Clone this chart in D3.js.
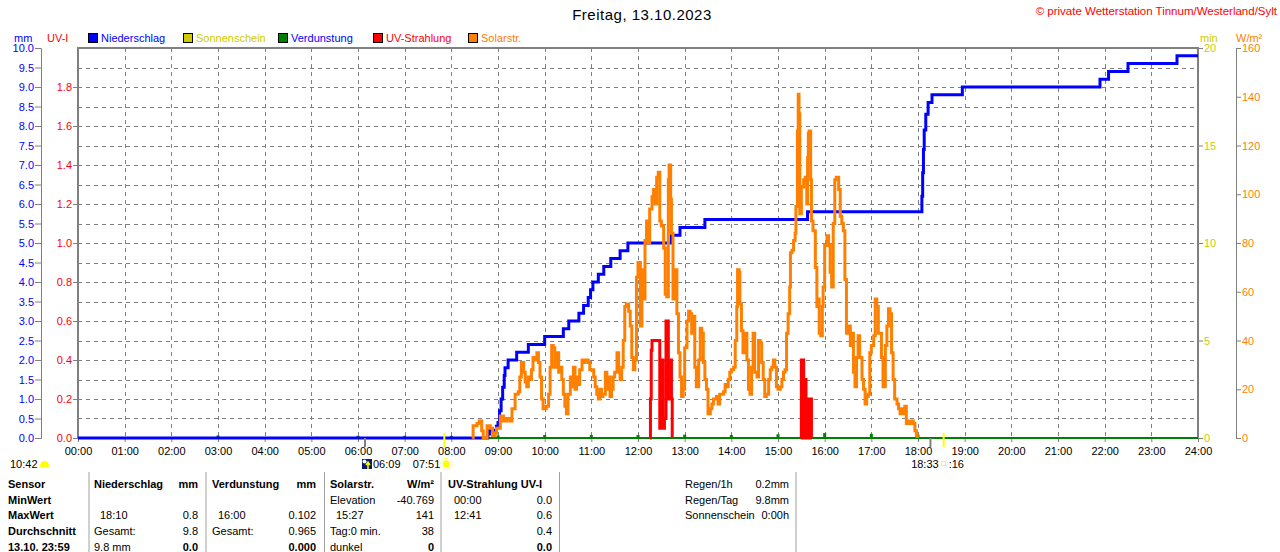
<!DOCTYPE html>
<html>
<head>
<meta charset="utf-8">
<script src="https://cdn.jsdelivr.net/npm/d3@7"></script>
<style>
    body { margin: 0; background: #fff; }
    svg { display: block; font-family: 'Liberation Sans', Arial, sans-serif; font-size: 11px; }
    .grid line { stroke: #808080; stroke-width: 1; stroke-dasharray: 4, 4; }
    .axis path, .axis line { stroke: #808080; }
    .tbl .b { font-weight: bold; }
</style>
</head>
<body>
<div class="chart"></div>
<script>
//
// GLOBALS
//
const width = 1280
const height = 552
const plot = { left: 78, right: 1198, top: 48, bottom: 438 }

//
// DATA
//
const title = 'Freitag, 13.10.2023'
const credit = '\u00a9 private Wetterstation Tinnum/Westerland/Sylt'

// axis ticks
const hourTicks = d3.range(0, 25)
const mmTicks = d3.range(0, 10.01, 0.5)
const uvTicks = d3.range(0, 1.81, 0.2)
const minTicks = [0, 5, 10, 15, 20]
const wTicks = [0, 20, 40, 60, 80, 100, 120, 140, 160]

// legend: [label, swatch colour, text colour]
const legendItems = [
    ['Niederschlag', '#0000ff', '#0000ff'],
    ['Sonnenschein', '#cccc00', '#cccc00'],
    ['Verdunstung', '#008000', '#0000ff'],
    ['UV-Strahlung', '#ff0000', '#ff0000'],
    ['Solarstr.', '#ff8000', '#ff8000']
]

// cumulative rain, mm
const rain = [
    ['00:00', 0], ['08:47', 0.1], ['08:49', 0.2], ['08:58', 0.3], ['09:00', 0.4], ['09:02', 0.7],
    ['09:04', 1.0], ['09:06', 1.3], ['09:08', 1.6], ['09:09', 1.8], ['09:13', 2.0], ['09:24', 2.2],
    ['09:39', 2.4], ['10:00', 2.6], ['10:24', 2.8], ['10:31', 3.0], ['10:44', 3.2], ['10:50', 3.4],
    ['10:56', 3.6], ['10:59', 3.8], ['11:02', 4.0], ['11:09', 4.2], ['11:16', 4.4], ['11:25', 4.6],
    ['11:37', 4.8], ['11:47', 5.0], ['12:43', 5.2], ['12:54', 5.4], ['13:26', 5.6], ['15:38', 5.8],
    ['18:05', 6.2], ['18:06', 6.8], ['18:07', 7.4], ['18:08', 7.9], ['18:10', 8.3], ['18:13', 8.6],
    ['18:18', 8.8], ['18:57', 9.0], ['21:54', 9.2], ['22:05', 9.4], ['22:30', 9.6], ['23:33', 9.8],
    ['24:00', 9.8]
]

// solar radiation, W/m2
const solar = [
    ['08:27', 0], ['08:28', 5], ['08:33', 6], ['08:36', 7], ['08:39', 3], ['08:41', 0], ['08:45', 0],
    ['08:46', 5], ['08:50', 4], ['08:53', 1], ['08:56', 2], ['08:58', 4],
    ['09:03', 9], ['09:07', 7], ['09:11', 8], ['09:15', 7], ['09:18', 12], ['09:22', 18], ['09:26', 19],
    ['09:28', 25], ['09:30', 31], ['09:33', 27], ['09:35', 23], ['09:37', 21], ['09:39', 25], ['09:41', 24],
    ['09:43', 28], ['09:45', 33], ['09:48', 32], ['09:50', 35], ['09:52', 31], ['09:54', 25], ['09:56', 16],
    ['09:58', 12],
    ['10:02', 13], ['10:05', 18], ['10:07', 29], ['10:09', 38], ['10:11', 37], ['10:13', 29], ['10:15', 35],
    ['10:18', 27], ['10:20', 29], ['10:22', 24], ['10:24', 18], ['10:26', 13], ['10:28', 10], ['10:30', 18],
    ['10:33', 25], ['10:35', 21], ['10:37', 29], ['10:39', 20], ['10:41', 25], ['10:43', 22], ['10:45', 28],
    ['10:48', 32], ['10:50', 31], ['10:52', 32], ['10:54', 32], ['10:56', 31], ['10:58', 28],
    ['11:03', 25], ['11:05', 21], ['11:07', 18], ['11:09', 16], ['11:11', 20], ['11:13', 17], ['11:15', 18],
    ['11:18', 27], ['11:20', 20], ['11:22', 25], ['11:24', 17], ['11:26', 20], ['11:28', 25], ['11:30', 27],
    ['11:33', 35], ['11:35', 27], ['11:37', 24], ['11:39', 29], ['11:41', 40], ['11:43', 54], ['11:45', 55],
    ['11:48', 52], ['11:50', 46], ['11:52', 33], ['11:54', 28], ['11:56', 32], ['11:58', 66],
    ['12:00', 72], ['12:03', 46], ['12:05', 69], ['12:07', 57], ['12:09', 81], ['12:11', 89], ['12:13', 80],
    ['12:15', 94], ['12:18', 99], ['12:20', 102], ['12:22', 96], ['12:24', 107], ['12:26', 109], ['12:28', 89],
    ['12:30', 87], ['12:33', 78], ['12:35', 59], ['12:37', 58], ['12:39', 106], ['12:40', 112], ['12:42', 98],
    ['12:43', 84], ['12:45', 57], ['12:48', 69], ['12:50', 51], ['12:52', 35], ['12:54', 25], ['12:56', 17],
    ['12:58', 20],
    ['13:00', 37], ['13:03', 48], ['13:05', 52], ['13:07', 51], ['13:09', 43], ['13:11', 50], ['13:13', 29],
    ['13:15', 21], ['13:18', 32], ['13:20', 45], ['13:22', 43], ['13:24', 31], ['13:26', 24], ['13:28', 20],
    ['13:30', 10], ['13:33', 12], ['13:35', 14], ['13:37', 16], ['13:41', 17], ['13:43', 14], ['13:45', 18],
    ['13:50', 19], ['13:52', 22], ['13:54', 21], ['13:56', 24], ['13:58', 27],
    ['14:00', 28], ['14:03', 29], ['14:05', 40], ['14:07', 54], ['14:08', 69], ['14:10', 68], ['14:11', 55],
    ['14:13', 44], ['14:15', 35], ['14:18', 43], ['14:20', 32], ['14:22', 20], ['14:24', 18], ['14:26', 29],
    ['14:28', 43], ['14:30', 27], ['14:33', 25], ['14:35', 40], ['14:37', 39], ['14:39', 31], ['14:41', 24],
    ['14:43', 17], ['14:45', 18], ['14:48', 24], ['14:50', 28], ['14:52', 29], ['14:54', 32], ['14:56', 29],
    ['14:58', 21],
    ['15:00', 20], ['15:03', 21], ['15:05', 24], ['15:07', 27], ['15:09', 28], ['15:11', 43], ['15:13', 51],
    ['15:15', 62], ['15:16', 76], ['15:18', 77], ['15:20', 81], ['15:22', 84], ['15:23', 95], ['15:25', 126],
    ['15:26', 141], ['15:27', 133], ['15:28', 92], ['15:30', 103], ['15:33', 106], ['15:35', 107], ['15:37', 96],
    ['15:38', 115], ['15:39', 125], ['15:40', 126], ['15:42', 106], ['15:43', 89], ['15:45', 85], ['15:48', 70],
    ['15:50', 54], ['15:52', 57], ['15:53', 43], ['15:55', 42], ['15:57', 54], ['15:58', 62],
    ['16:00', 79], ['16:03', 83], ['16:05', 79], ['16:07', 68], ['16:09', 62], ['16:11', 88], ['16:13', 106],
    ['16:15', 107], ['16:18', 102], ['16:20', 91], ['16:22', 88], ['16:24', 85], ['16:26', 65], ['16:28', 43],
    ['16:30', 46], ['16:33', 38], ['16:35', 43], ['16:37', 27], ['16:39', 21], ['16:41', 33], ['16:43', 42],
    ['16:45', 33], ['16:48', 24], ['16:50', 20], ['16:52', 14], ['16:54', 17], ['16:56', 18], ['16:58', 35],
    ['17:00', 38], ['17:03', 42], ['17:05', 57], ['17:07', 54], ['17:09', 43], ['17:11', 43], ['17:13', 33],
    ['17:15', 21], ['17:18', 38], ['17:20', 46], ['17:22', 53], ['17:24', 51], ['17:26', 35], ['17:28', 24],
    ['17:30', 16], ['17:33', 14], ['17:35', 12], ['17:37', 10], ['17:39', 12], ['17:41', 10], ['17:43', 13],
    ['17:45', 6], ['17:48', 7], ['17:50', 6], ['17:52', 7], ['17:54', 6], ['17:56', 3], ['17:58', 1],
    ['17:59', 0]
]

// UV index, two sunny spells
const uvNoon = [
    ['12:15', 0], ['12:16', 0.2], ['12:17', 0.45], ['12:18', 0.5], ['12:28', 0.05], ['12:30', 0.4],
    ['12:32', 0.05], ['12:34', 0.1], ['12:36', 0.6], ['12:39', 0.2], ['12:41', 0.4], ['12:43', 0.2], ['12:44', 0]
]
const uvAfternoon = [
    ['15:29', 0], ['15:30', 0.4], ['15:31', 0], ['15:32', 0.4], ['15:33', 0], ['15:33', 0.3], ['15:34', 0],
    ['15:35', 0.3], ['15:36', 0.2], ['15:37', 0], ['15:38', 0.2], ['15:39', 0], ['15:40', 0.2], ['15:41', 0],
    ['15:42', 0.2], ['15:43', 0]
]

// hourly evaporation, mm
const evapHours = [3, 6, 7, 8, 9, 10, 11, 12, 13, 14, 15, 16, 17, 18]
const evapValues = [0.04, 0.03, 0.03, 0.03, 0.04, 0.05, 0.05, 0.05, 0.06, 0.05, 0.07, 0.1, 0.08, 0.06]

// dawn / sunrise / dusk / sunset markers
const sunEvents = [['06:09', 'twilight'], ['07:51', 'sun'], ['18:16', 'twilight'], ['18:33', 'sun']]

// statistics table
const sensorCol = ['Sensor', 'MinWert', 'MaxWert', 'Durchschnitt', '13.10. 23:59']
const rainCol = [['Niederschlag', 'mm'], ['', ''], ['18:10', '0.8'], ['Gesamt:', '9.8'], ['9.8 mm', '0.0']]
const evapCol = [['Verdunstung', 'mm'], ['', ''], ['16:00', '0.102'], ['Gesamt:', '0.965'], ['', '0.000']]
const solarCol = [['Solarstr.', 'W/m\u00b2'], ['Elevation', '-40.769'], ['15:27', '141'], ['Tag:0 min.', '38'], ['dunkel', '0']]
const uvCol = [['UV-Strahlung UV-I', ''], ['00:00', '0.0'], ['12:41', '0.6'], ['', '0.4'], ['', '0.0']]
const summaryCol = [['Regen/1h', '0.2mm'], ['Regen/Tag', '9.8mm'], ['Sonnenschein', '0:00h']]

//
// HELPERS
//
const toHours = (s) => {
    const [h, m] = s.split(':').map(Number)
    return h + m / 60
}

// scales
const x = d3.scaleLinear().domain([0, 24]).range([plot.left, plot.right])
const yMm = d3.scaleLinear().domain([0, 10]).range([plot.bottom, plot.top])
const yUv = d3.scaleLinear().domain([0, 2]).range([plot.bottom, plot.top])
const yMin = d3.scaleLinear().domain([0, 20]).range([plot.bottom, plot.top])
const yW = d3.scaleLinear().domain([0, 160]).range([plot.bottom, plot.top])

const svg = d3.select('.chart').append('svg').attr('width', width).attr('height', height)

// 1) titles
svg.append('text')
    .attr('x', 642).attr('y', 20)
    .attr('text-anchor', 'middle')
    .style('font-size', '15px')
    .style('letter-spacing', '0.5px')
    .text(title)
svg.append('text')
    .attr('x', 1277).attr('y', 15)
    .attr('text-anchor', 'end')
    .attr('fill', '#ff0000')
    .style('font-size', '11.5px')
    .text(credit)

// 2) unit labels and legend
const unitLabel = (xPos, txt, col) =>
    svg.append('text').attr('x', xPos).attr('y', 42).attr('fill', col).text(txt)
unitLabel(14, 'mm', '#0000ff')
unitLabel(47, 'UV-I', '#ff0000')
unitLabel(1200, 'min', '#cccc00')
unitLabel(1236, 'W/m\u00b2', '#ff8000')

const legendX = [88, 183, 278, 373, 468]
const legend = svg.append('g').attr('class', 'legend')
legendItems.forEach(([label, col, textCol], i) => {
    legend.append('rect')
        .attr('x', legendX[i] + 0.5).attr('y', 33.5)
        .attr('width', 9).attr('height', 9)
        .attr('fill', col).attr('stroke', '#000')
    legend.append('text')
        .attr('x', legendX[i] + 13).attr('y', 42)
        .attr('fill', textCol)
        .text(label)
})

// 3) grid
const grid = svg.append('g').attr('class', 'grid')
grid.selectAll('line.h')
    .data(mmTicks.filter((d) => d > 0 && d < 10))
    .join('line')
    .attr('x1', plot.left).attr('x2', plot.right)
    .attr('y1', (d) => Math.round(yMm(d)) + 0.5).attr('y2', (d) => Math.round(yMm(d)) + 0.5)
grid.selectAll('line.v')
    .data(hourTicks.filter((d) => d > 0 && d < 24))
    .join('line')
    .attr('x1', (d) => Math.round(x(d)) + 0.5).attr('x2', (d) => Math.round(x(d)) + 0.5)
    .attr('y1', plot.top).attr('y2', plot.bottom)

// 4) axes
const styleAxis = (g, col) => {
    g.attr('class', 'axis')
    g.selectAll('text').attr('fill', col).style('font-size', '11px').style('font-family', 'Liberation Sans, Arial, sans-serif')
}
svg.append('g')
    .attr('transform', 'translate(41,0)')
    .call(d3.axisLeft(yMm).tickValues(mmTicks).tickFormat(d3.format('.1f')).tickSize(6).tickSizeOuter(6).tickPadding(1))
    .call((g) => styleAxis(g, '#0000ff'))
svg.append('g')
    .attr('transform', `translate(${plot.left},0)`)
    .call(d3.axisLeft(yUv).tickValues(uvTicks).tickFormat(d3.format('.1f')).tickSize(5).tickPadding(1))
    .call((g) => styleAxis(g, '#ff0000'))
    .call((g) => g.select('.domain').remove())
svg.append('g')
    .attr('transform', `translate(${plot.right},0)`)
    .call(d3.axisRight(yMin).tickValues(minTicks).tickSize(5).tickPadding(1))
    .call((g) => styleAxis(g, '#cccc00'))
    .call((g) => g.select('.domain').remove())
svg.append('g')
    .attr('transform', 'translate(1236,0)')
    .call(d3.axisRight(yW).tickValues(wTicks).tickSize(5).tickSizeOuter(5).tickPadding(1))
    .call((g) => styleAxis(g, '#ff8000'))
svg.append('g')
    .attr('transform', `translate(0,${plot.bottom})`)
    .call(d3.axisBottom(x).tickValues(hourTicks).tickFormat((d) => d3.format('02d')(d) + ':00').tickSize(4).tickPadding(5))
    .call((g) => styleAxis(g, '#000'))
    .call((g) => g.select('.domain').remove())

// 5) frame
svg.append('rect')
    .attr('x', plot.left).attr('y', plot.top)
    .attr('width', plot.right - plot.left).attr('height', plot.bottom - plot.top)
    .attr('fill', 'none').attr('stroke', '#808080').attr('stroke-width', 2)

// 6) series
const seriesLine = (yScale, curve) => d3.line()
    .x((d) => x(toHours(d[0])))
    .y((d) => yScale(d[1]))
    .curve(curve)

// evaporation: baseline plus hourly markers
svg.append('path')
    .attr('d', seriesLine(yMm, d3.curveLinear)([['00:00', 0], ['24:00', 0]]))
    .attr('fill', 'none').attr('stroke', '#008000').attr('stroke-width', 2)
svg.append('g').selectAll('rect')
    .data(evapHours)
    .join('rect')
    .attr('x', (d) => x(d) - 1.5)
    .attr('width', 3)
    .attr('y', (d, i) => yMm(evapValues[i]) - 1)
    .attr('height', (d, i) => yMm(0) - yMm(evapValues[i]) + 1)
    .attr('fill', '#008000')

svg.append('path')
    .attr('d', seriesLine(yMm, d3.curveStepAfter)(rain))
    .attr('fill', 'none').attr('stroke', '#0000ff').attr('stroke-width', 3)

svg.append('path')
    .attr('d', seriesLine(yW, d3.curveStepAfter)(solar))
    .attr('fill', 'none').attr('stroke', '#ff8000').attr('stroke-width', 3)

for (const spell of [uvNoon, uvAfternoon]) {
    svg.append('path')
        .attr('d', seriesLine(yUv, d3.curveStepAfter)(spell))
        .attr('fill', 'none').attr('stroke', '#ff0000').attr('stroke-width', 3)
}

// 7) sun events under the axis
const sunG = svg.append('g')
for (const [t, kind] of sunEvents) {
    const sx = x(toHours(t))
    sunG.append('line')
        .attr('x1', sx).attr('x2', sx)
        .attr('y1', kind === 'sun' ? 433 : 438).attr('y2', 447)
        .attr('stroke', kind === 'sun' ? '#ffff00' : '#808080').attr('stroke-width', 2)
}
const dawn = x(toHours(sunEvents[0][0]))
const rise = x(toHours(sunEvents[1][0]))
const set = x(toHours(sunEvents[3][0]))
// dawn icon
sunG.append('rect').attr('x', dawn - 3).attr('y', 459).attr('width', 10).attr('height', 10).attr('fill', '#0a1a6a')
sunG.append('circle').attr('cx', dawn - 0.5).attr('cy', 461.5).attr('r', 2).attr('fill', '#fff')
sunG.append('path').attr('d', `M${dawn + 3},469 V463 M${dawn + 1},465 L${dawn + 3},462 L${dawn + 5},465`)
    .attr('stroke', '#ffff00').attr('stroke-width', 1.5).attr('fill', 'none')
sunG.append('text').attr('x', dawn + 8).attr('y', 468).text(sunEvents[0][0])
// sunrise
sunG.append('text').attr('x', rise - 4).attr('y', 468).attr('text-anchor', 'end').text(sunEvents[1][0])
sunG.append('circle').attr('cx', rise + 2).attr('cy', 464).attr('r', 3.5).attr('fill', '#ffff00')
sunG.append('circle').attr('cx', rise + 2).attr('cy', 464).attr('r', 5.5)
    .attr('fill', 'none').attr('stroke', '#ffff00').attr('stroke-width', 1).attr('stroke-dasharray', '1.5,1.3')
// sunset
sunG.append('text').attr('x', set - 5).attr('y', 468).attr('text-anchor', 'end').text(sunEvents[3][0])
sunG.append('rect').attr('x', set - 2).attr('y', 461.5).attr('width', 4).attr('height', 4)
    .attr('fill', 'none').attr('stroke', '#ffff00').attr('stroke-width', 1)
sunG.append('text').attr('x', set + 5).attr('y', 468).text(':' + sunEvents[2][0].slice(3))
// day length
svg.append('text').attr('x', 10).attr('y', 468).text('10:42')
svg.append('path').attr('d', 'M40,467 Q40,461 44.5,461 Q49,461 49,467 Z').attr('fill', '#ffff00')

// 8) statistics table
const tbl = svg.append('g').attr('class', 'tbl')
const rowY = (i) => 488 + i * 15.7
const sepX = [89, 206, 324.5, 441, 559.5, 796]
tbl.selectAll('line')
    .data(sepX)
    .join('line')
    .attr('x1', (d) => d).attr('x2', (d) => d)
    .attr('y1', 472).attr('y2', height)
    .attr('stroke', '#a0a0a0')

sensorCol.forEach((txt, i) => {
    tbl.append('text').attr('class', 'b').attr('x', 8).attr('y', rowY(i)).text(txt)
})
const isTime = (s) => /^\d\d:\d\d$/.test(s)
const plotColumn = (col, left, right, withHeader) => {
    col.forEach(([label, value], i) => {
        const bold = withHeader && i === 0
        const boldValue = bold || (withHeader && i === col.length - 1)
        tbl.append('text')
            .attr('class', bold ? 'b' : null)
            .attr('x', left + (isTime(label) && i > 0 ? 6 : 0))
            .attr('y', rowY(i))
            .text(label)
        tbl.append('text')
            .attr('class', boldValue ? 'b' : null)
            .attr('x', right).attr('y', rowY(i))
            .attr('text-anchor', 'end')
            .text(value)
    })
}
plotColumn(rainCol, 94, 198, true)
plotColumn(evapCol, 212, 316, true)
plotColumn(solarCol, 330, 434, true)
plotColumn(uvCol, 448, 552, true)
plotColumn(summaryCol, 685, 789, false)
</script>
</body>
</html>
